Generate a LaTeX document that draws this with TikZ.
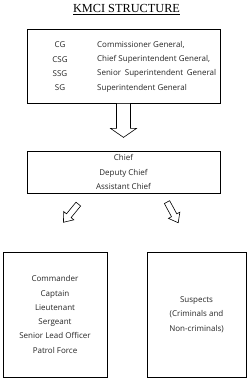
\documentclass[tikz,border=0pt]{standalone}
\usepackage{fontspec}
\setmainfont{Open Sans}
\newfontfamily\titlefont{Liberation Serif}
\usetikzlibrary{calc}
\begin{document}
\begin{tikzpicture}[x=1pt,y=-1pt,
  box/.style={draw=black,line width=0.8pt,inner sep=0pt,fill=white},
  txt/.style={inner sep=0pt,font=\fontsize{8}{14.3}\selectfont,text=black!85},
  blockarrow/.style={draw=black,line width=0.6pt,fill=white,line join=miter}]
\useasboundingbox (0,0) rectangle (250,380);
% title
\node[inner sep=0pt,anchor=base,font=\titlefont\fontsize{12.3}{14}\selectfont] (title) at (126.5,12.5) {\underline{KMCI STRUCTURE}};
% boxes
\node[box,minimum width=193pt,minimum height=74pt] (b1) at (123.5,66) {};
\node[box,minimum width=193pt,minimum height=42pt] (b2) at (123.5,172) {};
\node[box,minimum width=104pt,minimum height=125pt] (b3) at (55,314.5) {};
\node[box,minimum width=99pt,minimum height=125pt] (b4) at (196.5,314.5) {};
% box 1 texts
\node[txt,align=center] (abbr) at (60,66.5) {CG\\CSG\\SSG\\SG};
\node[txt,align=left,anchor=west] (full) at (97,66.5) {Commissioner General,\\Chief Superintendent General,\\\makebox[119pt][s]{Senior Superintendent General}\\Superintendent General};
% box 2 text
\node[txt,align=center] (t2) at (b2.center) {Chief\\Deputy Chief\\Assistant Chief};
% box 3 text
\node[txt,align=center] (t3) at (b3.center) {Commander\\Captain\\Lieutenant\\Sergeant\\Senior Lead Officer\\Patrol Force};
% box 4 text
\node[txt,align=center] (t4) at (b4.center) {Suspects\\(Criminals and\\Non-criminals)};
% block arrows
\draw[blockarrow,shift={(b1.south)}]
  (-7,0) -- (7,0) -- (7,25) -- (13,25) -- (0,34) -- (-13,25) -- (-7,25) -- cycle;
\draw[blockarrow,shift={($(b2.south)+(-45.2,10.7)$)},rotate=230.7]
  (0,-3) -- (15,-3) -- (15,-6.5) -- (23.5,0) -- (15,6.5) -- (15,3) -- (0,3) -- cycle;
\draw[blockarrow,shift={($(b2.south)+(43.5,8.7)$)},rotate=298.5]
  (0,-3) -- (15,-3) -- (15,-6.5) -- (23.5,0) -- (15,6.5) -- (15,3) -- (0,3) -- cycle;
\end{tikzpicture}
\end{document}
